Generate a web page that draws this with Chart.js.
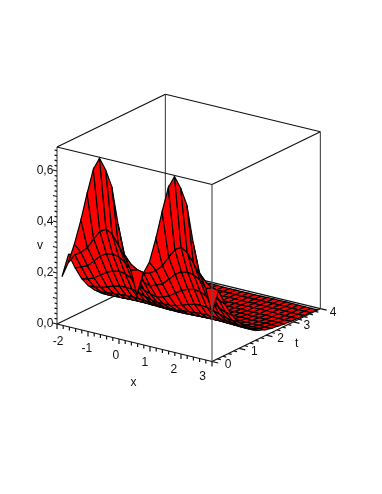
<!DOCTYPE html>
<html>
<head>
<meta charset="utf-8">
<style>
html, body { margin: 0; padding: 0; background: #fff; }
canvas { display: block; }
</style>
<script src="https://cdn.jsdelivr.net/npm/chart.js@4/dist/chart.umd.js"></script>
</head>
<body>
<canvas id="chart" width="382" height="494"></canvas>
<script>
// grid of the surface
const xValues = [-1.84, -1.64, -1.44, -1.23, -1.03, -0.83, -0.63, -0.43, -0.23, -0.03, 0.18, 0.38, 0.58,
    0.78, 0.98, 1.19, 1.39, 1.59, 1.79, 1.99, 2.19, 2.39, 2.6, 2.8, 3];
const tValues = [0, 0.2425, 0.485, 0.7275, 0.97, 1.2125, 1.455, 1.6975, 1.94, 2.1825, 2.425, 2.6675, 2.91, 3.1525, 3.395, 3.6375, 3.88];

// v along x, one array per t line
const vT00 = [.19,.25,.33,.43,.54,.64,.69,.65,.59,.45,.335,.28,.19,.28,.33,.43,.54,.64,.69,.65,.59,.45,.335,.28,.19];
const vT01 = [.265,.27,.285,.31,.35,.385,.40,.385,.35,.31,.285,.27,.265,.27,.285,.31,.35,.385,.40,.385,.35,.31,.285,.27,.265];
const vT02 = [.20,.21,.22,.245,.27,.285,.29,.285,.27,.245,.22,.21,.20,.21,.22,.245,.27,.285,.29,.285,.27,.245,.22,.21,.20];
const vT03 = [.145,.15,.16,.178,.194,.205,.21,.205,.194,.178,.16,.15,.145,.15,.16,.178,.194,.205,.21,.205,.194,.178,.16,.15,.145];
const vT04 = [.105,.106,.11,.118,.127,.133,.135,.133,.127,.118,.11,.106,.105,.106,.11,.118,.127,.133,.135,.133,.127,.118,.11,.106,.105];
const vT05 = [.075,.075,.077,.08,.082,.084,.085,.084,.082,.08,.077,.075,.075,.075,.077,.08,.082,.084,.085,.084,.082,.08,.077,.075,.075];
const vT06 = [.05,.05,.051,.052,.053,.054,.054,.054,.053,.052,.051,.05,.05,.05,.051,.052,.053,.054,.054,.054,.053,.052,.051,.05,.05];
const vT07 = [.034,.034,.034,.035,.035,.036,.036,.036,.035,.035,.034,.034,.034,.034,.034,.035,.035,.036,.036,.036,.035,.035,.034,.034,.034];
const vT08 = [.024,.024,.024,.024,.025,.025,.025,.025,.025,.024,.024,.024,.024,.024,.024,.024,.025,.025,.025,.025,.025,.024,.024,.024,.024];
const vT09 = [.017,.017,.017,.017,.018,.018,.018,.018,.018,.017,.017,.017,.017,.017,.017,.017,.018,.018,.018,.018,.018,.017,.017,.017,.017];
const vT10 = [.013,.013,.013,.013,.013,.013,.013,.013,.013,.013,.013,.013,.013,.013,.013,.013,.013,.013,.013,.013,.013,.013,.013,.013,.013];
const vT11 = [.009,.009,.009,.009,.01,.01,.01,.01,.01,.009,.009,.009,.009,.009,.009,.009,.01,.01,.01,.01,.01,.009,.009,.009,.009];
const vT12 = [.007,.007,.007,.007,.007,.007,.007,.007,.007,.007,.007,.007,.007,.007,.007,.007,.007,.007,.007,.007,.007,.007,.007,.007,.007];
const vT13 = [.005,.005,.005,.005,.006,.006,.006,.006,.006,.005,.005,.005,.005,.005,.005,.005,.006,.006,.006,.006,.006,.005,.005,.005,.005];
const vT14 = [.004,.004,.004,.004,.005,.005,.005,.005,.005,.004,.004,.004,.004,.004,.004,.004,.005,.005,.005,.005,.005,.004,.004,.004,.004];
const vT15 = [.003,.003,.003,.003,.004,.004,.004,.004,.004,.003,.003,.003,.003,.003,.003,.003,.004,.004,.004,.004,.004,.003,.003,.003,.003];
const vT16 = [.002,.002,.002,.002,.003,.003,.003,.003,.003,.002,.002,.002,.002,.002,.002,.002,.003,.003,.003,.003,.003,.002,.002,.002,.002];
const vRows = [vT00, vT01, vT02, vT03, vT04, vT05, vT06, vT07, vT08, vT09, vT10, vT11, vT12, vT13, vT14, vT15, vT16];

// axes
const xMin = -2, xMax = 3, tMin = 0, tMax = 4, vMin = 0, vMax = 0.694;
const xTickLabels = [-2, -1, 0, 1, 2, 3];
const tTickLabels = [0, 1, 2, 3, 4];
const vTickLabels = [0, 0.2, 0.4, 0.6];

// fixed view of the box, plain affine since the original shows no perspective
function project(x, t, v) {
    return {
        x: 57 + (x - xMin) * 31 + t * 27.1,
        y: 324 + (x - xMin) * 7.5 - t * 13.2 - v * 255
    };
}

function edge(a, b, color) {
    return {
        data: [project(a[0], a[1], a[2]), project(b[0], b[1], b[2])],
        showLine: true, fill: false, pointRadius: 0,
        borderColor: color, borderWidth: 1.2
    };
}

const black = "#111";
const grey = "#555";
const backEdges = [
    edge([xMin, tMax, vMin], [xMin, tMax, vMax], grey),
    edge([xMin, tMin, vMin], [xMin, tMax, vMin], black),
    edge([xMin, tMax, vMin], [xMax, tMax, vMin], black),
    edge([xMin, tMin, vMax], [xMin, tMax, vMax], black),
    edge([xMin, tMax, vMax], [xMax, tMax, vMax], black),
    edge([xMax, tMin, vMax], [xMax, tMax, vMax], black),
    edge([xMax, tMax, vMin], [xMax, tMax, vMax], grey),
    edge([xMin, tMin, vMin], [xMin, tMin, vMax], grey)
];

// back to front: far t lines first, and small x before large x
const cells = [];
for (let j = tValues.length - 2; j >= 0; j--) {
    for (let i = 0; i < xValues.length - 1; i++) {
        const c = [
            project(xValues[i], tValues[j], vRows[j][i]),
            project(xValues[i + 1], tValues[j], vRows[j][i + 1]),
            project(xValues[i + 1], tValues[j + 1], vRows[j + 1][i + 1]),
            project(xValues[i], tValues[j + 1], vRows[j + 1][i])
        ];
        cells.push({
            data: [c[0], c[1], c[2], c[3], c[0]],
            showLine: true, fill: "shape", backgroundColor: "#ff0000",
            borderColor: "#000", borderWidth: 1.2, pointRadius: 0
        });
    }
}

function tickSet(list) {
    const pts = [];
    list.forEach(s => {
        pts.push(project(s[0][0], s[0][1], s[0][2]));
        pts.push(project(s[1][0], s[1][1], s[1][2]));
        pts.push({ x: NaN, y: NaN });
    });
    return { data: pts, showLine: true, fill: false, pointRadius: 0, borderColor: black, borderWidth: 1.2, spanGaps: false };
}

const xTicks = [], tTicks = [], vTicks = [];
for (let k = 0; k <= 25; k++) {
    const x = xMin + k * 0.2;
    const len = k % 5 == 0 ? 0.02 : 0.014;
    xTicks.push([[x, tMin, vMin], [x, tMin, vMin - len]]);
}
for (let k = 0; k <= 20; k++) {
    const t = tMin + k * 0.2;
    const len = k % 5 == 0 ? 0.2 : 0.11;
    tTicks.push([[xMax, t, vMin], [xMax + len, t, vMin]]);
}
for (let k = 0; k <= 34; k++) {
    const v = vMin + k * 0.02;
    const len = k % 5 == 0 ? 0.13 : 0.08;
    vTicks.push([[xMin, tMin, v], [xMin - len, tMin, v]]);
}

const frontEdges = [
    edge([xMin, tMin, vMin], [xMax, tMin, vMin], black),
    edge([xMax, tMin, vMin], [xMax, tMax, vMin], black),
    edge([xMax, tMin, vMin], [xMax, tMin, vMax], grey),
    edge([xMin, tMin, vMax], [xMax, tMin, vMax], black),
    tickSet(xTicks), tickSet(tTicks), tickSet(vTicks)
];

// tick and axis names sit a little way off the box
const labelPlugin = {
    id: "boxLabels",
    afterDraw(chart) {
        const ctx = chart.ctx;
        const sx = chart.scales.x, sy = chart.scales.y;
        function put(text, p, dx, dy) {
            ctx.fillText(text, sx.getPixelForValue(p.x) + dx, sy.getPixelForValue(p.y) + dy);
        }
        ctx.save();
        ctx.fillStyle = "#111";
        ctx.font = "12px 'Liberation Sans'";
        ctx.textAlign = "center";
        ctx.textBaseline = "middle";
        xTickLabels.forEach(x => put(String(x), project(x, tMin, vMin), 1 - (x - xMin) * 2.06, 18 - (x - xMin) * 0.5));
        tTickLabels.forEach(t => put(String(t), project(xMax, t, vMin), 16 - t * 0.8, 3 + t * 0.3));
        vTickLabels.forEach(v => put(v.toFixed(1).replace(".", ","), project(xMin, tMin, v), -12, 0));
        put("x", project(0.5, tMin, vMin), -1, 40);
        put("t", project(xMax, 2.5, vMin), 17, 15);
        put("v", project(xMin, tMin, 0.31), -17, 1);
        ctx.restore();
    }
};

// Chart.js paints the first dataset on top, so hand them over last layer first
const layers = backEdges.concat(cells, frontEdges).reverse();

let chart = new Chart(document.getElementById("chart").getContext("2d"), {
    type: "scatter",
    data: { datasets: layers },
    options: {
        responsive: false,
        animation: false,
        layout: { padding: 0 },
        events: [],
        scales: {
            x: { type: "linear", min: 0, max: 382, display: false },
            y: { type: "linear", min: 0, max: 494, reverse: true, display: false }
        },
        plugins: {
            legend: { display: false },
            tooltip: { enabled: false },
            filler: { drawTime: "beforeDatasetDraw" }
        }
    },
    plugins: [labelPlugin]
});
</script>
</body>
</html>
